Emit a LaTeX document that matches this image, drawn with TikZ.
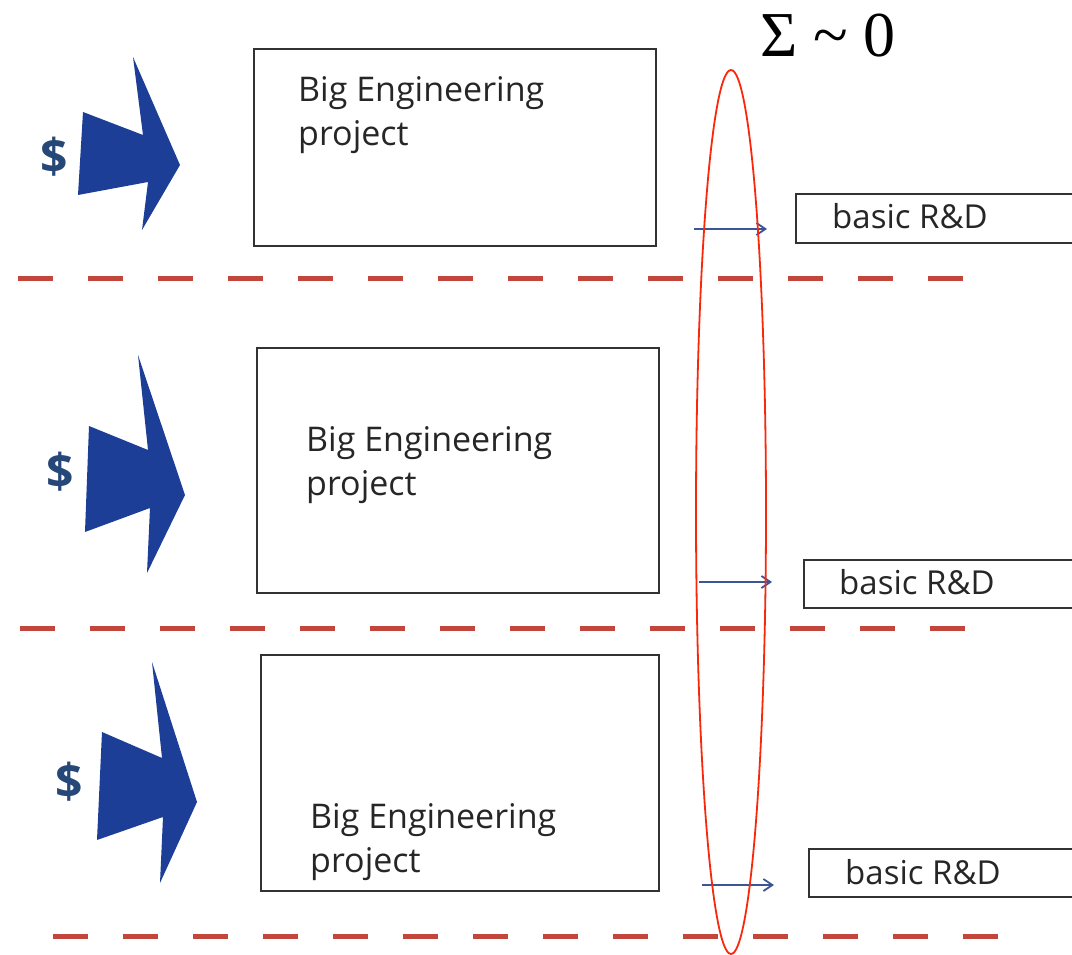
\documentclass[tikz,border=0pt]{standalone}
\usepackage{fontspec}
\setmainfont{Open Sans}
\newfontfamily\sigmafont{Liberation Serif}
\usetikzlibrary{arrows.meta}
\definecolor{bigblue}{RGB}{28,62,150}
\definecolor{dollarblue}{RGB}{38,72,120}
\definecolor{smallblue}{RGB}{60,85,150}
\definecolor{dashred}{RGB}{195,70,60}
\definecolor{ellred}{RGB}{250,40,10}
\definecolor{boxgray}{RGB}{50,50,50}
\tikzset{
  projbox/.style={draw=boxgray, line width=2.2pt},
  projtext/.style={anchor=north west, inner sep=0pt, align=left, text=black!85,
    font=\fontsize{34}{44}\selectfont},
  rdbox/.style={draw=boxgray, line width=2.2pt},
  rdtext/.style={anchor=base west, inner sep=0pt, text=black!85,
    font=\fontsize{33}{36}\selectfont},
  bigarrow/.style={fill=bigblue, draw=none},
  dollar/.style={text=dollarblue, inner sep=0pt,
    font=\fontsize{48}{48}\selectfont\bfseries},
  smallarrow/.style={draw=smallblue, line width=1.8pt, -{Straight Barb[length=9pt,width=12pt]}},
  sepline/.style={draw=dashred, line width=5pt, dash pattern=on 35pt off 35pt},
}
\begin{document}
\begin{tikzpicture}[x=1pt, y=-1pt]
\useasboundingbox (0,0) rectangle (1072,955);
\fill[white] (0,0) rectangle (1072,955);

% project boxes
\draw[projbox] (254,49) rectangle (656,246);
\draw[projbox] (257,348) rectangle (659,593);
\draw[projbox] (261,655) rectangle (659,891);
\node[projtext] (p1) at (298,76) {Big Engineering\\project};
\node[projtext] (p2) at (306,426) {Big Engineering\\project};
\node[projtext] (p3) at (310,803) {Big Engineering\\project};

% basic R&D boxes
\draw[rdbox] (796,194) rectangle (1080,243);
\draw[rdbox] (804,560) rectangle (1080,608);
\draw[rdbox] (809,849) rectangle (1080,897);
\node[rdtext] (r1) at (832,229) {basic R\&D};
\node[rdtext] (r2) at (839,594) {basic R\&D};
\node[rdtext] (r3) at (845,884) {basic R\&D};

% small arrows
\coordinate (s1) at (694,229); \coordinate (e1) at (767,229);
\coordinate (s2) at (699,582); \coordinate (e2) at (772,582);
\coordinate (s3) at (702,885); \coordinate (e3) at (774,885);
\draw[smallarrow] (s1) -- (e1);
\draw[smallarrow] (s2) -- (e2);
\draw[smallarrow] (s3) -- (e3);

% dashed separators
\draw[sepline] (18,278) -- (970,278);
\draw[sepline] (20,628) -- (970,628);
\draw[sepline] (53,936) -- (1002,936);

% big blue arrows
\fill[bigarrow] (83,112) -- (143,135) -- (133,57) -- (180,165) -- (142,230) -- (148,182) -- (78,195) -- cycle;
\fill[bigarrow] (89,426) -- (148,450) -- (138,355) -- (185,495) -- (147,573) -- (150,508) -- (85,532) -- cycle;
\fill[bigarrow] (102,732) -- (162,758) -- (152,662) -- (197,802) -- (160,883) -- (163,817) -- (97,840) -- cycle;

% dollar signs
\node[dollar] (d1) at (54,157) {\$};
\node[dollar] (d2) at (60,472) {\$};
\node[dollar] (d3) at (69,782) {\$};

% ellipse
\draw[draw=ellred, line width=1.8pt] (731,512) ellipse [x radius=35, y radius=442];

% sum
\node[anchor=base, inner sep=0pt, font=\sigmafont\fontsize{64}{64}\selectfont] (sum) at (828,57) {Σ \textasciitilde{} 0};
\end{tikzpicture}
\end{document}
